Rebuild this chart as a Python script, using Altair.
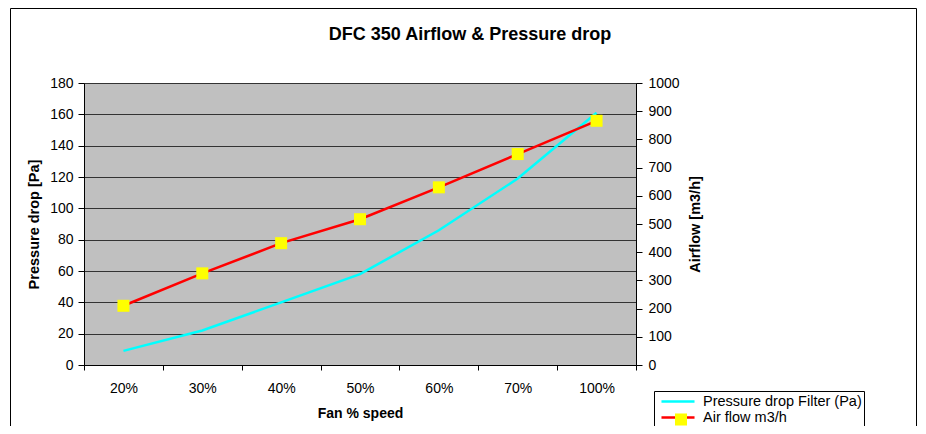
import altair as alt
import pandas as pd

speeds = ["20%", "30%", "40%", "50%", "60%", "70%", "100%"]
pressure_drop = [9, 22, 40, 58, 86, 119, 161]
airflow = [210, 325, 432, 517, 630, 748, 866]
series_names = ["Pressure drop Filter (Pa)", "Air flow m3/h"]
pressure_ticks = list(range(0, 181, 20))
airflow_ticks = list(range(0, 1001, 100))

df_p = pd.DataFrame({"speed": speeds, "value": pressure_drop, "series": series_names[0]})
df_a = pd.DataFrame({"speed": speeds, "value": airflow, "series": series_names[1]})

FONT = "Liberation Sans"

x_enc = alt.X(
    "speed:N", sort=speeds,
    scale=alt.Scale(type="band", paddingInner=0, paddingOuter=0),
    axis=alt.Axis(title="Fan % speed", labelAngle=0, tickBand="extent", tickSize=5,
                  tickColor="black", domainColor="black", labelColor="black",
                  labelFont=FONT, labelFontSize=14, labelPadding=11,
                  titleFont=FONT, titleFontSize=14, titleFontWeight="bold",
                  titleColor="black", titlePadding=11, grid=False),
)

stroke_scale = alt.Scale(domain=series_names, range=["#00FFFF", "#FF0000"])
fill_scale = alt.Scale(domain=[series_names[1]], range=["#FFFF00"])

common_leg = dict(orient="none", legendX=570, direction="vertical", title=None,
                  symbolSize=210, symbolStrokeWidth=2.5, padding=2, rowPadding=1,
                  labelFont=FONT, labelFontSize=14.5, labelOffset=16.5, labelLimit=0)

legA = alt.Legend(symbolType="M-2.28,0H2.28", fillColor="white", strokeColor="black",
                  labelColor="black", legendY=308, symbolOffset=13.5, zindex=1,
                  **common_leg)
legB = alt.Legend(symbolType="M-0.83,-0.83H0.83V0.83H-0.83Z", labelColor="transparent",
                  labelExpr="''", symbolStrokeColor="transparent", legendY=326,
                  symbolOffset=16.5, zindex=2, **common_leg)

y_left = alt.Y("value:Q", scale=alt.Scale(domain=[0, 180], nice=False),
               axis=alt.Axis(title="Pressure drop [Pa]", values=pressure_ticks, grid=True,
                             gridColor="#333333", gridWidth=1, tickSize=6, tickColor="black",
                             domainColor="black", labelColor="black", labelFont=FONT,
                             labelFontSize=14, labelPadding=5, titleFont=FONT,
                             titleFontSize=14.5, titleFontWeight="bold", titleColor="black",
                             titlePadding=8))

y_right = alt.Y("value:Q", scale=alt.Scale(domain=[0, 1000], nice=False),
                axis=alt.Axis(title="Airflow [m3/h]", orient="right", values=airflow_ticks,
                              format="d", grid=False, tickSize=6, tickColor="black",
                              domainColor="black", labelColor="black", labelFont=FONT,
                              labelFontSize=14, labelPadding=6, titleFont=FONT,
                              titleFontSize=14.5, titleFontWeight="bold", titleColor="black",
                              titleAngle=270, titleBaseline="top", titlePadding=9))

frame = alt.Chart(alt.Data(values=[{"k": 1}])).mark_rect(
    fill="transparent", stroke="black", strokeWidth=1
).encode(x=alt.value(-73.5), x2=alt.value(832.5), y=alt.value(-74.5), y2=alt.value(400))

p_line = alt.Chart(df_p).mark_line(strokeWidth=2.5).encode(
    x=x_enc, y=y_left,
    stroke=alt.Stroke("series:N", scale=stroke_scale, legend=legA),
)

a_line = alt.Chart(df_a).mark_line(strokeWidth=2.5).encode(
    x=x_enc, y=y_right,
    stroke=alt.Stroke("series:N", scale=stroke_scale, legend=legA),
)

a_pts = alt.Chart(df_a).mark_square(size=144, strokeWidth=0, opacity=1).encode(
    x=x_enc, y=y_right,
    fill=alt.Fill("series:N", scale=fill_scale, legend=legB),
)

chart = alt.layer(frame, p_line, alt.layer(a_line, a_pts)).resolve_scale(
    y="independent"
).properties(
    width=552, height=282,
    autosize=alt.AutoSizeParams(type="none"),
    padding={"left": 76, "top": 75, "right": 282, "bottom": 61},
    title=alt.Title("DFC 350 Airflow & Pressure drop", font=FONT, fontSize=18,
                    fontWeight="bold", color="black", anchor="middle", frame="group",
                    dx=110, offset=-36),
    background="white",
).configure_view(fill="#C0C0C0", stroke="#808080", strokeWidth=1)

chart.save("out.html", embed_options={"renderer": "svg", "actions": False})
